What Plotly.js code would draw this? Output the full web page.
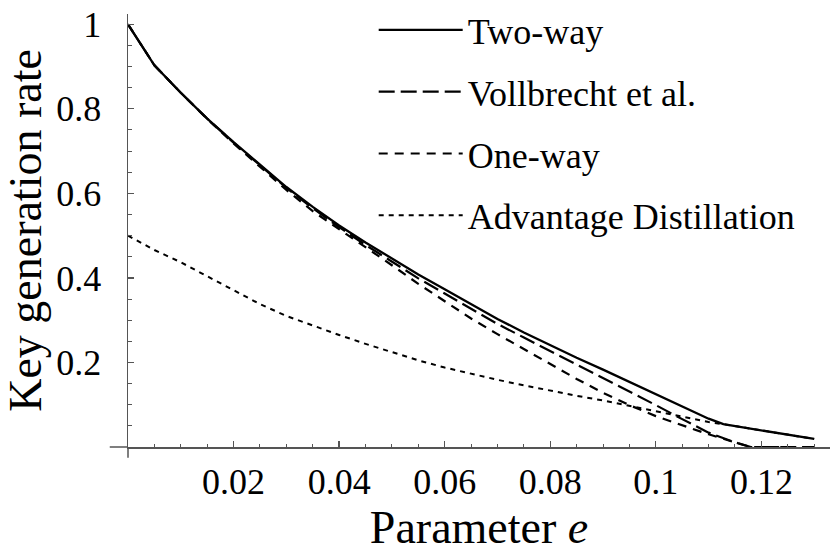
<!DOCTYPE html>
<html>
<head>
<meta charset="utf-8">
<script src="https://cdn.plot.ly/plotly-3.0.1.min.js"></script>
<style>
html,body{margin:0;padding:0;background:#fff;}
#chart{width:831px;height:557px;}
</style>
</head>
<body>
<div id="chart"></div>
<script>
// ---- data ----
const seriesNames = ["Two-way", "Vollbrecht et al.", "One-way", "Advantage Distillation"];

const twoWayE    = [0,0.005,0.01,0.015,0.02,0.025,0.03,0.035,0.04,0.045,0.05,0.055,0.06,0.065,0.07,0.075,0.08,0.085,0.09,0.095,0.10,0.105,0.11,0.1128,0.12,0.13];
const twoWayRate = [1,0.903,0.838,0.777,0.721,0.667,0.615,0.568,0.524,0.484,0.446,0.408,0.373,0.338,0.303,0.271,0.241,0.211,0.183,0.154,0.125,0.096,0.067,0.054,0.040,0.019];

const vollE    = [0,0.005,0.01,0.015,0.02,0.025,0.03,0.035,0.04,0.045,0.05,0.055,0.06,0.065,0.07,0.075,0.08,0.085,0.09,0.095,0.10,0.105,0.11,0.115,0.118,0.13];
const vollRate = [1,0.903,0.838,0.777,0.720,0.666,0.613,0.565,0.520,0.478,0.438,0.399,0.363,0.327,0.291,0.259,0.227,0.195,0.164,0.132,0.099,0.066,0.034,0.011,0,0];

const oneWayE    = [0,0.005,0.01,0.015,0.02,0.025,0.03,0.035,0.04,0.045,0.05,0.055,0.06,0.065,0.07,0.075,0.08,0.085,0.09,0.095,0.10,0.105,0.11,0.115,0.118,0.13];
const oneWayRate = [1,0.903,0.838,0.776,0.718,0.662,0.608,0.558,0.516,0.473,0.430,0.386,0.344,0.304,0.267,0.232,0.196,0.161,0.128,0.099,0.073,0.052,0.030,0.011,0,0];

const advE    = [0,0.0025,0.005,0.01,0.015,0.02,0.025,0.03,0.035,0.04,0.045,0.05,0.055,0.06,0.065,0.07,0.075,0.08,0.085,0.09,0.095,0.10,0.105,0.11,0.1128,0.12,0.13];
const advRate = [0.5,0.482,0.466,0.437,0.404,0.369,0.338,0.310,0.287,0.265,0.244,0.224,0.205,0.188,0.173,0.159,0.146,0.133,0.121,0.110,0.097,0.085,0.072,0.059,0.054,0.040,0.019];

const xTickVals = [0.02,0.04,0.06,0.08,0.1,0.12];
const xTickText = ["0.02","0.04","0.06","0.08","0.1","0.12"];
const yTickVals = [0.2,0.4,0.6,0.8,1];
const yTickText = ["0.2","0.4","0.6","0.8","1"];

// ---- chart ----
const FONT = "Liberation Serif";
const AXC = "#555555";

const traces = [
  {x: advE, y: advRate, name: seriesNames[3], legendrank: 4, legendgroup: "d",
   line: {color: "#000", width: 2, dash: "5px,5px"}},
  {x: oneWayE, y: oneWayRate, name: seriesNames[2], legendrank: 3, legendgroup: "c",
   line: {color: "#000", width: 2.2, dash: "9px,7px"}},
  {x: vollE, y: vollRate, name: seriesNames[1], legendrank: 2, legendgroup: "b",
   line: {color: "#000", width: 2.2, dash: "16px,6px"}},
  {x: twoWayE, y: twoWayRate, name: seriesNames[0], legendrank: 1, legendgroup: "a",
   line: {color: "#000", width: 2.3}}
].map(t => Object.assign({type: "scatter", mode: "lines", hoverinfo: "skip"}, t));

const layout = {
  width: 831, height: 557,
  margin: {l: 128, r: 1, t: 13, b: 110},
  paper_bgcolor: "#fff", plot_bgcolor: "#fff",
  font: {family: FONT, size: 36, color: "#000"},
  showlegend: true,
  legend: {x: 0.35, y: 1.03, xanchor: "left", yanchor: "top",
           bgcolor: "rgba(0,0,0,0)", font: {family: FONT, size: 36, color: "#000"},
           tracegroupgap: 12, itemwidth: 84, traceorder: "grouped"},
  xaxis: {range: [0, 0.133], showgrid: false, zeroline: false,
          showline: true, linecolor: AXC, linewidth: 1.5,
          tickmode: "array", tickvals: xTickVals, ticktext: xTickText,
          ticks: "inside", ticklen: 6, tickwidth: 1.3, tickcolor: AXC,
          minor: {tick0: 0, dtick: 0.005, ticks: "inside", ticklen: 3.5, tickwidth: 1, tickcolor: AXC},
          ticklabelstandoff: 2,
          tickfont: {family: FONT, size: 36, color: "#000"},
          title: {text: "Parameter <i>e</i>", font: {family: FONT, size: 46, color: "#000"}, standoff: 4}},
  yaxis: {range: [0, 1.0243], showgrid: false, zeroline: false,
          showline: true, linecolor: AXC, linewidth: 1.5,
          tickmode: "array", tickvals: yTickVals, ticktext: yTickText,
          ticks: "inside", ticklen: 6, tickwidth: 1.3, tickcolor: AXC,
          minor: {tick0: 0, dtick: 0.05, ticks: "inside", ticklen: 3.5, tickwidth: 1, tickcolor: AXC},
          ticklabelstandoff: 18,
          tickfont: {family: FONT, size: 36, color: "#000"},
          title: {text: "Key generation rate", font: {family: FONT, size: 46, color: "#000"}, standoff: 8}},
  shapes: [
    {type: "line", xref: "paper", yref: "paper", x0: -0.026, x1: 0, y0: 0, y1: 0,
     line: {color: AXC, width: 1.5}},
    {type: "line", xref: "paper", yref: "paper", x0: 0, x1: 0, y0: -0.025, y1: 0,
     line: {color: AXC, width: 1.5}}
  ]
};

Plotly.newPlot("chart", traces, layout, {displayModeBar: false, staticPlot: true});
</script>
</body>
</html>
